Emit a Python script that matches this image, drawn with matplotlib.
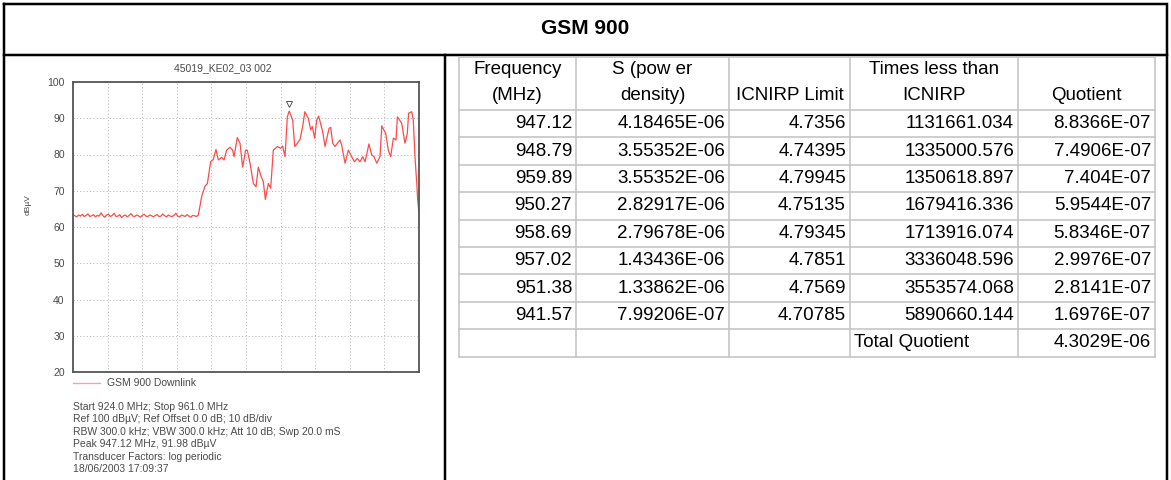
import matplotlib
matplotlib.use("Agg")
import matplotlib.pyplot as plt
import numpy as np

plt.rcParams['font.family'] = ['Liberation Sans', 'DejaVu Sans']

# ---------------- data ----------------
header_title = "GSM 900"
chart_title = "45019_KE02_03 002"
y_label = "dBµV"
legend_label = "GSM 900 Downlink"
x_start_mhz, x_stop_mhz = 924.0, 961.0
y_ticks = [20, 30, 40, 50, 60, 70, 80, 90, 100]

noise_freq_mhz = [
    924.0, 924.2, 924.4, 924.6, 924.8, 925.0, 925.2, 925.4, 925.6, 925.8,
    926.0, 926.2, 926.4, 926.6, 926.8, 927.0, 927.2, 927.4, 927.6, 927.8,
    928.0, 928.2, 928.4, 928.6, 928.8, 929.0, 929.2, 929.4, 929.6, 929.8,
    930.0, 930.2, 930.4, 930.6, 930.8, 931.0, 931.2, 931.4, 931.6, 931.8,
    932.0, 932.2, 932.4, 932.6, 932.8, 933.0, 933.2, 933.4, 933.6, 933.8,
    934.0, 934.2, 934.4, 934.6, 934.8, 935.0, 935.2, 935.4, 935.6, 935.8,
    936.0, 936.2, 936.4, 936.6, 936.8, 937.0, 937.2]
noise_level_dbuv = [
    63.4, 63.1, 62.8, 63.3, 63.0, 63.5, 62.9, 63.2, 63.6, 62.9,
    63.1, 63.4, 62.8, 63.2, 63.0, 63.9, 63.1, 62.7, 63.3, 63.5,
    62.9, 63.2, 63.8, 62.9, 63.0, 63.4, 62.6, 63.1, 63.3, 62.8,
    63.2, 63.7, 63.0, 62.9, 63.3, 63.1, 62.7, 63.2, 63.5, 63.0,
    62.9, 63.3, 63.1, 62.8, 63.2, 63.4, 62.9, 63.0, 63.6, 63.1,
    62.8, 63.3, 63.0, 62.9, 63.2, 63.8, 63.0, 62.8, 63.3, 63.1,
    62.9, 63.4, 63.0, 62.7, 63.2, 63.1, 62.9]

band_freq_mhz = [
    937.40, 937.76, 938.12, 938.37, 938.72, 939.01, 939.29, 939.54, 939.90, 940.15,
    940.43, 940.79, 941.07, 941.22, 941.57, 941.86, 942.14, 942.46, 942.64, 942.93,
    943.29, 943.57, 943.82, 944.07, 944.35, 944.57, 944.89, 945.14, 945.42, 945.85,
    946.21, 946.42, 946.67, 946.92, 947.12, 947.49, 947.71, 947.99, 948.28, 948.56,
    948.79, 949.16, 949.42, 949.59, 949.84, 950.06, 950.27, 950.70, 950.95, 951.38,
    951.56, 951.77, 952.02, 952.27, 952.55, 952.73, 953.09, 953.44, 953.80, 954.09,
    954.41, 954.69, 954.98, 955.23, 955.65, 955.94, 956.19, 956.48, 956.83, 957.02,
    957.44, 957.72, 957.97, 958.26, 958.54, 958.69, 959.15, 959.50, 959.75, 959.89,
    960.22, 960.39, 960.57, 960.76, 960.86, 961.0]
band_level_dbuv = [
    63.3, 68.4, 71.3, 72.0, 78.0, 78.7, 81.4, 78.5, 79.2, 78.5,
    81.2, 82.0, 81.2, 79.4, 84.7, 83.1, 76.5, 81.2, 81.2, 77.6,
    72.0, 71.1, 76.5, 74.3, 72.5, 67.6, 72.0, 70.7, 81.2, 82.2,
    81.7, 82.3, 79.4, 90.4, 91.98, 89.5, 82.2, 83.1, 84.2, 87.7,
    91.8, 90.0, 86.8, 87.7, 84.5, 89.5, 90.6, 86.3, 82.2, 87.2,
    87.5, 83.1, 82.2, 83.1, 84.0, 82.6, 77.6, 81.2, 79.4, 78.0,
    78.9, 78.0, 79.4, 78.0, 82.9, 79.9, 79.4, 77.6, 79.4, 87.9,
    85.8, 81.2, 79.4, 84.5, 84.0, 90.4, 88.6, 83.1, 85.8, 91.4,
    91.8, 89.5, 79.4, 72.0, 67.4, 63.8]

peak_freq_mhz = 947.12
peak_level_dbuv = 91.98

info_lines = [
    "Start 924.0 MHz; Stop 961.0 MHz",
    "Ref 100 dBµV; Ref Offset 0.0 dB; 10 dB/div",
    "RBW 300.0 kHz; VBW 300.0 kHz; Att 10 dB; Swp 20.0 mS",
    "Peak 947.12 MHz, 91.98 dBµV",
    "Transducer Factors: log periodic",
    "18/06/2003 17:09:37",
]

col_headers = [("Frequency", "(MHz)"), ("S (pow er", "density)"), ("", "ICNIRP Limit"),
               ("Times less than", "ICNIRP"), ("", "Quotient")]
frequency_mhz = ["947.12", "948.79", "959.89", "950.27", "958.69", "957.02", "951.38", "941.57"]
power_density = ["4.18465E-06", "3.55352E-06", "3.55352E-06", "2.82917E-06",
                 "2.79678E-06", "1.43436E-06", "1.33862E-06", "7.99206E-07"]
icnirp_limit = ["4.7356", "4.74395", "4.79945", "4.75135", "4.79345", "4.7851", "4.7569", "4.70785"]
times_less = ["1131661.034", "1335000.576", "1350618.897", "1679416.336",
              "1713916.074", "3336048.596", "3553574.068", "5890660.144"]
quotient = ["8.8366E-07", "7.4906E-07", "7.404E-07", "5.9544E-07",
            "5.8346E-07", "2.9976E-07", "2.8141E-07", "1.6976E-07"]
total_label = "Total Quotient"
total_value = "4.3029E-06"

# ---------------- figure ----------------
W, H, DPI = 1171, 480, 100
fig = plt.figure(figsize=(W / DPI, H / DPI), dpi=DPI)
fig.patch.set_facecolor("white")

ov = fig.add_axes([0, 0, 1, 1])
ov.set_xlim(0, W)
ov.set_ylim(H, 0)
ov.axis("off")

px = 0.72  # points per pixel
# outer frame
ov.plot([4, 1167, 1167, 4, 4], [4, 4, 482, 482, 4], color="black", lw=2.5 * px,
        solid_joinstyle="miter", clip_on=False)
ov.plot([4, 1167], [55, 55], color="black", lw=2.5 * px)
ov.plot([445, 445], [55, 482], color="black", lw=2.5 * px, clip_on=False)
ov.text(585, 28, header_title, ha="center", va="center", fontsize=15, fontweight="bold")

# table
col_edges = [459, 576, 729, 850, 1018, 1155]
row_edges = [57, 110, 137.4, 164.8, 192.2, 219.6, 247, 274.4, 301.8, 329.2, 356.6]
gcol = "#c4c4c4"
for x in col_edges:
    ov.plot([x, x], [row_edges[0], row_edges[-1]], color=gcol, lw=1.6 * px)
for y in row_edges:
    ov.plot([col_edges[0], col_edges[-1]], [y, y], color=gcol, lw=1.6 * px)
tfs = 13.5
for c, (l1, l2) in enumerate(col_headers):
    xc = (col_edges[c] + col_edges[c + 1]) / 2
    if l1:
        ov.text(xc, 70, l1, ha="center", va="center", fontsize=tfs)
    ov.text(xc, 96, l2, ha="center", va="center", fontsize=tfs)
columns = [frequency_mhz, power_density, icnirp_limit, times_less, quotient]
for r in range(len(frequency_mhz)):
    yc = (row_edges[r + 1] + row_edges[r + 2]) / 2
    for c, col in enumerate(columns):
        ov.text(col_edges[c + 1] - 4, yc, col[r], ha="right", va="center", fontsize=tfs)
yc = (row_edges[-2] + row_edges[-1]) / 2
ov.text(col_edges[3] + 4, yc, total_label, ha="left", va="center", fontsize=tfs)
ov.text(col_edges[5] - 4, yc, total_value, ha="right", va="center", fontsize=tfs)

# chart annotations
tcol = "#4a4a4a"
sfs = 7.5
ov.text(223, 68, chart_title, ha="center", va="center", fontsize=sfs, color=tcol)
ov.text(28, 205, y_label, ha="center", va="center", fontsize=6, color=tcol, rotation=90)
ov.plot([73, 100], [383, 383], color="#f4a0a8", lw=1.3 * px)
ov.text(107, 383, legend_label, ha="left", va="center", fontsize=sfs, color=tcol)
for i, line in enumerate(info_lines):
    ov.text(73, 407 + i * 12.4, line, ha="left", va="center", fontsize=sfs, color=tcol)

# spectrum chart
ax = fig.add_axes([73 / W, 1 - 372 / H, 346 / W, 290 / H])
ax.plot(noise_freq_mhz + band_freq_mhz, noise_level_dbuv + band_level_dbuv,
        color="#ff4a4a", lw=0.9)
ax.plot([peak_freq_mhz], [peak_level_dbuv + 2.0], marker="v", markersize=4.5,
        markerfacecolor="white", markeredgecolor="#555555", markeredgewidth=0.7, linestyle="none")
ax.set_xlim(x_start_mhz, x_stop_mhz)
ax.set_ylim(y_ticks[0], y_ticks[-1])
ax.set_xticks(np.linspace(x_start_mhz, x_stop_mhz, 11))
ax.set_xticklabels([])
ax.set_yticks(y_ticks)
ax.set_yticklabels([str(v) for v in y_ticks], fontsize=sfs, color=tcol)
ax.tick_params(length=0, pad=6)
ax.grid(True, linestyle=(0, (1.2, 2.2)), color="#bdbdbd", lw=0.7)
for s in ax.spines.values():
    s.set_color("#555555")
    s.set_linewidth(1.3)

fig.savefig("out.png", dpi=DPI, facecolor="white")
